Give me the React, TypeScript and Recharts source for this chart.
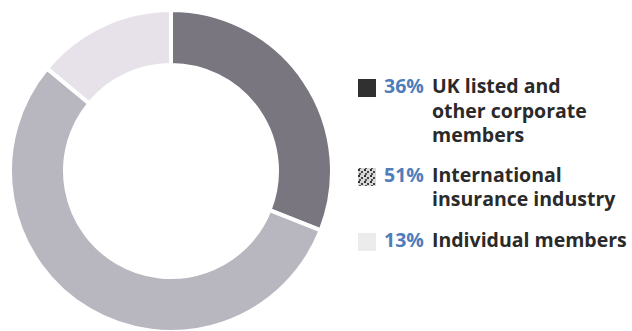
import React from "react";
import { PieChart, Pie, Cell, Legend } from "recharts";

const categories = [
  "UK listed and other corporate members",
  "International insurance industry",
  "Individual members",
];
const labelLines = [
  ["UK listed and", "other corporate", "members"],
  ["International", "insurance industry"],
  ["Individual members"],
];
const percentLabels = ["36%", "51%", "13%"];
// arc shares as drawn in the picture
const sliceValues = [31, 55, 14];
const sliceColors = ["#7a7680", "#b8b7c0", "#e7e2ea"];
const iconColors = ["#303030", "url(#speckle)", "#ececec"];

const data = categories.map((name, i) => ({ name, value: sliceValues[i] }));

const LegendContent = () => (
  <div style={{ fontFamily: "'Open Sans', sans-serif", fontWeight: 700, fontSize: 19.5, lineHeight: "24.5px" }}>
    {categories.map((c, i) => (
      <div key={c} style={{ display: "flex", alignItems: "flex-start", marginBottom: i === 0 ? 15 : 16 }}>
        <svg width={26} height={24.5} style={{ flex: "none" }}>
          <defs>
            <pattern id="speckle" width="6" height="6" patternUnits="userSpaceOnUse">
              <rect width="6" height="6" fill="#d8d8d8" />
              <rect x="0" y="0" width="2" height="2" fill="#333" />
              <rect x="3" y="2" width="2" height="2" fill="#444" />
              <rect x="1" y="4" width="2" height="2" fill="#555" />
            </pattern>
          </defs>
          <rect x={0} y={5} width={18} height={18} fill={iconColors[i]} />
        </svg>
        <div style={{ color: "#4f7dbb", width: 48, flex: "none" }}>{percentLabels[i]}</div>
        <div style={{ color: "#2a2a2a" }}>
          {labelLines[i].map((l) => (
            <div key={l}>{l}</div>
          ))}
        </div>
      </div>
    ))}
  </div>
);

export default function App() {
  return (
    <div style={{ position: "absolute", left: 0, top: 0, width: 632, height: 331, background: "#fff" }}>
      <PieChart width={632} height={331} margin={{ top: 0, right: 0, bottom: 0, left: 0 }}>
        <Pie
          data={data}
          dataKey="value"
          nameKey="name"
          cx={171}
          cy={171}
          innerRadius={106}
          outerRadius={161}
          startAngle={90}
          endAngle={-270}
          stroke="#ffffff"
          strokeWidth={4}
          isAnimationActive={false}
        >
          {data.map((d, i) => (
            <Cell key={d.name} fill={sliceColors[i]} />
          ))}
        </Pie>
        <Legend
          content={<LegendContent />}
          wrapperStyle={{ position: "absolute", left: 358, top: 74, width: 274 }}
        />
      </PieChart>
    </div>
  );
}
